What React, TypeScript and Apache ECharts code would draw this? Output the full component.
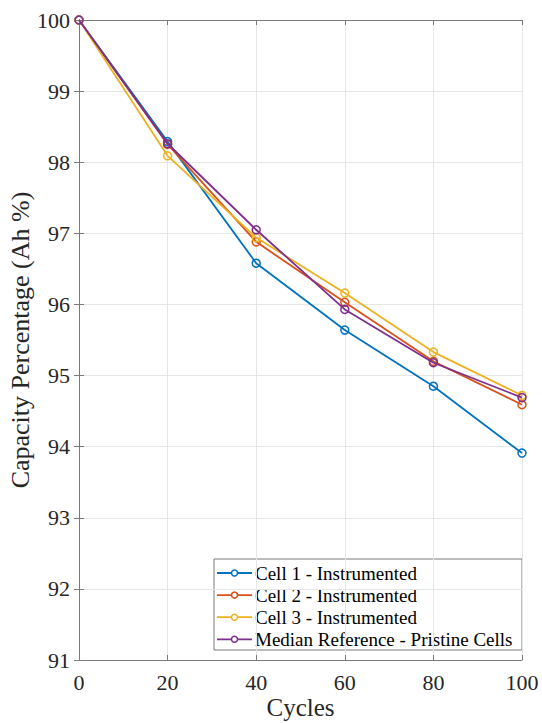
import React, { useEffect, useRef } from "react";
import * as echarts from "echarts";

const cycles = [0, 20, 40, 60, 80, 100];
const cell1 = [100, 98.29, 96.58, 95.64, 94.85, 93.91];
const cell2 = [100, 98.25, 96.88, 96.03, 95.2, 94.59];
const cell3 = [100, 98.09, 96.94, 96.16, 95.33, 94.72];
const median = [100, 98.26, 97.05, 95.93, 95.18, 94.69];
const seriesNames = [
  "Cell 1 - Instrumented",
  "Cell 2 - Instrumented",
  "Cell 3 - Instrumented",
  "Median Reference - Pristine Cells",
];
const colors = ["#0072BD", "#D95319", "#EDB120", "#7E2F8E"];

const FONT = "Liberation Serif";

export default function App() {
  const ref = useRef<HTMLDivElement>(null);
  useEffect(() => {
    if (!ref.current) return;
    const chart = echarts.init(ref.current, undefined, { renderer: "svg" });
    const all = [cell1, cell2, cell3, median];
    const axisLine = { show: true, lineStyle: { color: "#7a7a7a", width: 1 } };
    const tick = { show: true, inside: true, length: 5, lineStyle: { color: "#7a7a7a" } };

    // Legend drawn as graphic elements (box at lower right of the plot)
    const LX = 214;
    const LY = 559;
    const rowStep = 22.1;
    const legendChildren: any[] = [
      {
        type: "rect",
        shape: { x: LX, y: LY, width: 308, height: 91 },
        style: { fill: "#fff", stroke: "#7a7a7a", lineWidth: 1 },
      },
    ];
    seriesNames.forEach((name, i) => {
      const cy = LY + 14 + i * rowStep;
      legendChildren.push(
        {
          type: "line",
          shape: { x1: LX + 3, y1: cy, x2: LX + 38, y2: cy },
          style: { stroke: colors[i], lineWidth: 1.8 },
        },
        {
          type: "circle",
          shape: { cx: LX + 20.5, cy, r: 3 },
          style: { fill: "#fff", stroke: colors[i], lineWidth: 1.5 },
        },
        {
          type: "text",
          x: LX + 41,
          y: cy,
          style: {
            text: name,
            fontFamily: FONT,
            fontSize: 19,
            fill: "#000",
            verticalAlign: "middle",
            align: "left",
          },
        }
      );
    });

    chart.setOption({
      animation: false,
      backgroundColor: "#fff",
      textStyle: { fontFamily: FONT },
      grid: {
        left: 79,
        right: 20,
        top: 20,
        bottom: 63,
        containLabel: false,
        outerBoundsMode: "none",
      },
      xAxis: [
        {
          type: "value",
          min: 0,
          max: 100,
          interval: 20,
          name: "Cycles",
          nameLocation: "middle",
          nameGap: 35,
          nameMoveOverlap: false,
          nameTextStyle: { fontFamily: FONT, fontSize: 25, color: "#262626" },
          axisLine,
          axisTick: tick,
          axisLabel: { fontFamily: FONT, fontSize: 22, color: "#262626", margin: 11 },
          splitLine: { show: true, lineStyle: { color: "#e6e6e6" } },
        },
        {
          type: "value",
          position: "top",
          min: 0,
          max: 100,
          interval: 20,
          axisLine,
          axisTick: tick,
          axisLabel: { show: false },
          splitLine: { show: false },
        },
      ],
      yAxis: [
        {
          type: "value",
          min: 91,
          max: 100,
          interval: 1,
          name: "Capacity Percentage (Ah %)",
          nameLocation: "middle",
          nameGap: 46,
          nameMoveOverlap: false,
          nameTextStyle: { fontFamily: FONT, fontSize: 26, color: "#262626" },
          axisLine,
          axisTick: tick,
          axisLabel: { fontFamily: FONT, fontSize: 22, color: "#262626", margin: 9 },
          splitLine: { show: true, lineStyle: { color: "#e6e6e6" } },
        },
        {
          type: "value",
          position: "right",
          min: 91,
          max: 100,
          interval: 1,
          axisLine,
          axisTick: tick,
          axisLabel: { show: false },
          splitLine: { show: false },
        },
      ],
      graphic: [{ type: "group", z: 100, children: legendChildren }],
      series: all.map((d, i) => ({
        name: seriesNames[i],
        type: "line",
        data: cycles.map((c, j) => [c, d[j]]),
        symbol: "circle",
        symbolSize: 8,
        color: colors[i],
        itemStyle: { color: "rgba(255,255,255,0)", borderColor: colors[i], borderWidth: 1.5 },
        lineStyle: { color: colors[i], width: 1.8 },
        z: 3 + i,
      })),
    });
    return () => chart.dispose();
  }, []);
  return (
    <div
      ref={ref}
      style={{ position: "fixed", left: 0, top: 0, width: 542, height: 723 }}
    />
  );
}
